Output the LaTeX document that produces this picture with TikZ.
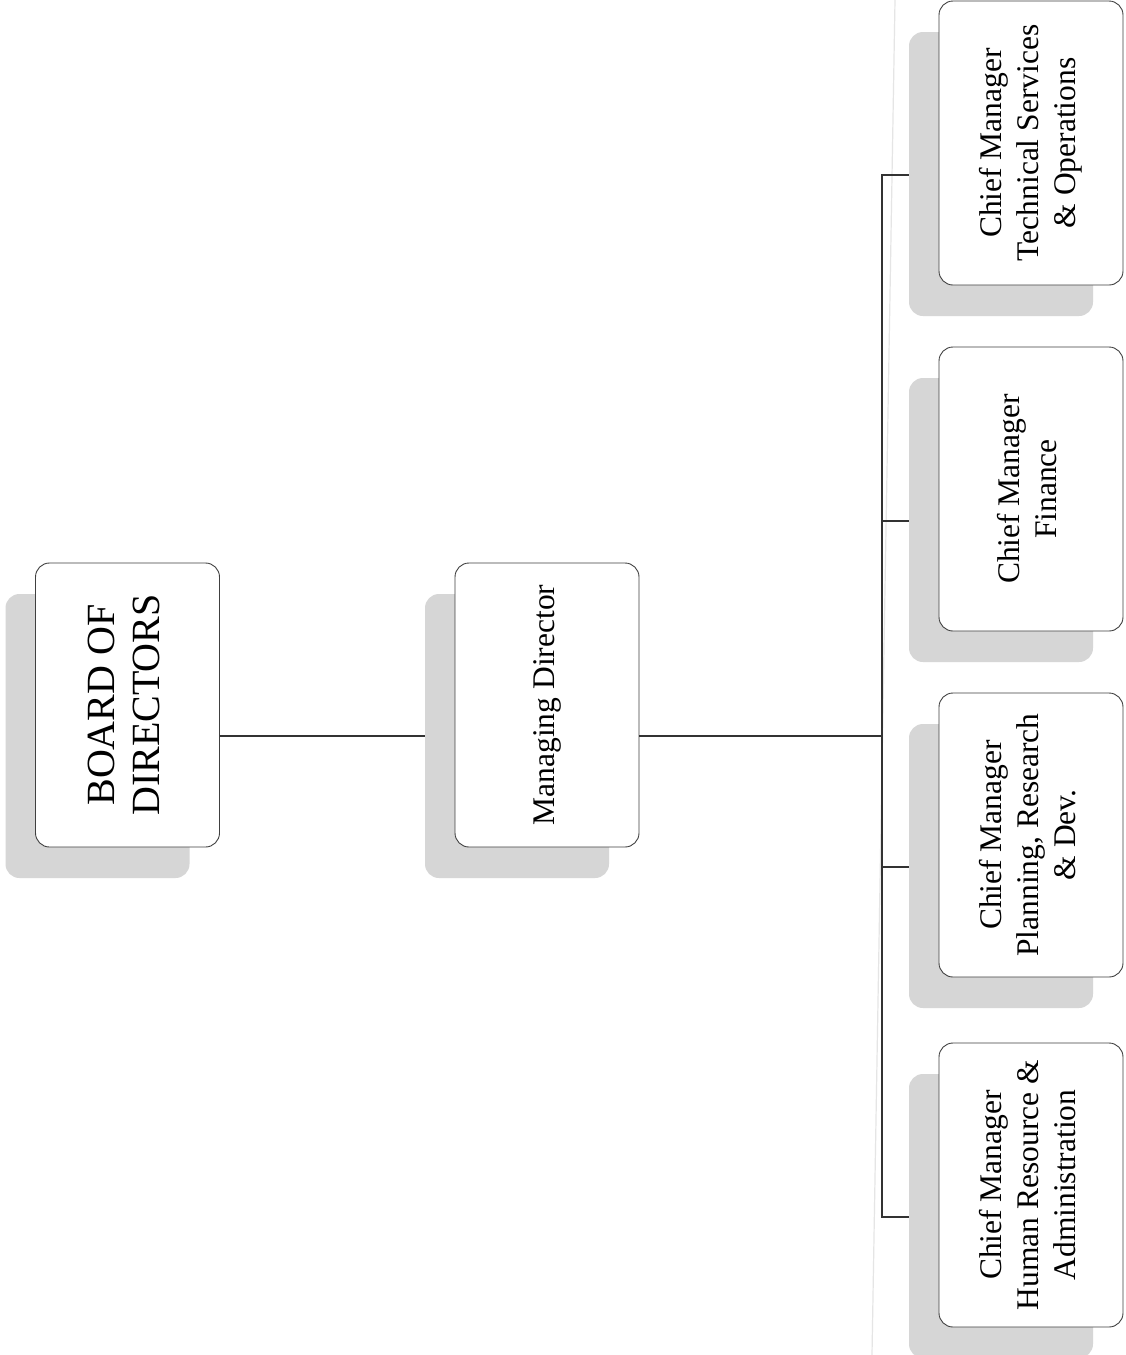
\documentclass[tikz,border=0pt]{standalone}
\usepackage{fontspec}
\setmainfont{Liberation Serif}
\usetikzlibrary{shadows}
\begin{document}
\begin{tikzpicture}[x=1pt,y=-1pt,
  orgbox/.style={draw=black!75, line width=0.9pt, rounded corners=14pt, fill=white,
    minimum width=184pt, minimum height=284pt, inner sep=0pt, align=center,
    font=\fontsize{31.5}{37}\selectfont,
    drop shadow={shadow xshift=-30pt, shadow yshift=-31pt, fill=black!16, opacity=1}},
  conn/.style={draw=black!80, line width=1.1pt},
  artifact/.style={draw=black!10, line width=1.2pt}]
\useasboundingbox[fill=white] (0,0) rectangle (1125,1355);
\draw[artifact] (895,0) -- (872,1355);
\node[orgbox, font=\fontsize{40}{45}\selectfont] (bod) at (127.5,705)
  {\rotatebox{90}{\begin{tabular}{@{}c@{}}BOARD OF\\DIRECTORS\end{tabular}}};
\node[orgbox] (md) at (547,705) {\rotatebox{90}{Managing Director}};
\node[orgbox] (tech) at (1031,143)
  {\rotatebox{90}{\begin{tabular}{@{}c@{}}Chief Manager\\Technical Services\\\& Operations\end{tabular}}};
\node[orgbox] (fin) at (1031,489)
  {\rotatebox{90}{\begin{tabular}{@{}c@{}}Chief Manager\\Finance\end{tabular}}};
\node[orgbox] (plan) at (1031,835)
  {\rotatebox{90}{\begin{tabular}{@{}c@{}}Chief Manager\\Planning, Research\\\& Dev.\end{tabular}}};
\node[orgbox] (hr) at (1031,1185)
  {\rotatebox{90}{\begin{tabular}{@{}c@{}}Chief Manager\\Human Resource \&\\Administration\end{tabular}}};
\coordinate (trunk) at (882,736);
\coordinate (techS) at ([xshift=-30pt,yshift=-32pt]tech.west);
\coordinate (finS) at ([xshift=-30pt,yshift=-32pt]fin.west);
\coordinate (planS) at ([xshift=-30pt,yshift=-32pt]plan.west);
\coordinate (hrS) at ([xshift=-30pt,yshift=-32pt]hr.west);
\draw[conn] ([yshift=-31pt]bod.east) -- ([xshift=-30pt,yshift=-31pt]md.west);
\draw[conn] ([yshift=-31pt]md.east) -- (trunk);
\draw[conn] (techS) -| (trunk) |- (hrS);
\draw[conn] (finS) -- (trunk |- finS);
\draw[conn] (planS) -- (trunk |- planS);
\end{tikzpicture}
\end{document}
